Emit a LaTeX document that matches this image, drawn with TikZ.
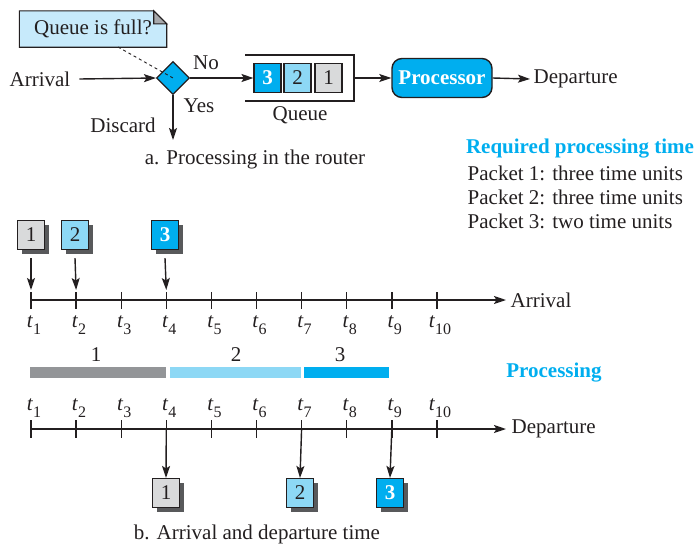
\documentclass[tikz,border=0pt]{standalone}
\usepackage{fontspec}
\setmainfont{Liberation Serif}
\usetikzlibrary{arrows.meta,shapes.geometric,shadows}
\definecolor{cy}{HTML}{00AEEF}
\definecolor{lb}{HTML}{8DD8F5}
\definecolor{lg}{HTML}{D9DADB}
\definecolor{bg}{HTML}{939598}
\definecolor{cf}{HTML}{C7EAFB}
\definecolor{fold}{HTML}{A7A9AC}
\definecolor{shd}{HTML}{58595B}
\definecolor{ink}{HTML}{231F20}
\newcommand{\tsub}[1]{\textit{t}\raisebox{-0.35em}{\fontsize{16}{16}\selectfont #1}}
\begin{document}
\begin{tikzpicture}[x=1pt,y=-1pt,font=\fontsize{21}{25}\selectfont,line width=1.4pt,draw=ink,text=ink,
  arr/.style={-{Stealth[length=12pt,width=8pt,inset=2.5pt]}},
  pkt/.style={draw=ink,minimum width=27pt,minimum height=29pt,inner sep=0pt,line width=1.1pt},
  shpkt/.style={pkt,drop shadow={shadow xshift=4pt,shadow yshift=-4pt,fill=shd,opacity=1}},
  p1/.style={fill=lg},
  p2/.style={fill=lb},
  p3/.style={fill=cy,text=white,font=\fontsize{21}{25}\selectfont\bfseries},
  ticklbl/.style={inner sep=0pt}]
\useasboundingbox (0,0) rectangle (696,544);

% ---------- part a ----------
\node[minimum width=146pt,minimum height=35pt,inner sep=0pt] (qf) at (93,29) {Queue is full?};
\draw[fill=cf,line width=1.1pt] (qf.north west) -- ([xshift=-13pt]qf.north east) -- ([yshift=-13pt]qf.north east) -- (qf.south east) -- (qf.south west) -- cycle;
\draw[fill=fold,line width=1.1pt] ([xshift=-13pt]qf.north east) -- ([xshift=-13pt,yshift=-13pt]qf.north east) -- ([yshift=-13pt]qf.north east) -- cycle;
\node[minimum width=146pt,minimum height=35pt,inner sep=0pt] at (qf) {Queue is full?};

\node[diamond,fill=cy,draw=ink,line width=1.1pt,minimum width=33pt,minimum height=33pt,inner sep=0pt] (dm) at (173,78) {};
\coordinate (qfs) at (118,47);
\draw[dashed,line width=0.9pt] (qfs) -- (dm.center);

\node (arrt) at (40,79) {Arrival};
\draw[arr] ([xshift=5pt]arrt.east) -- (dm.west);
\node (no) at (206,63) {No};
\node (yes) at (199,106) {Yes};
\node (disc) at (123,125) {Discard};
\coordinate (dis) at (173,140);
\draw[arr] (dm.south) -- (dis);

\node[pkt,p3] (q3) at (267.5,78) {3};
\node[pkt,p2] (q2) at (297.5,78) {2};
\node[pkt,p1] (q1) at (328.5,78) {1};
\draw[arr] (dm.east) -- (q3.west);
\draw[line width=1.1pt] (245,55) -| (354,101) -- (245,101);
\coordinate (qr) at (354,78);
\node (qlbl) at (300,115) {Queue};

\node[draw=ink,fill=cy,rounded corners=10pt,minimum width=100pt,minimum height=39pt,inner sep=0pt,text=white,font=\fontsize{21}{25}\selectfont\bfseries] (proc) at (442,78) {Processor};
\draw[arr] (qr) -- (proc.west);
\node[anchor=west,inner sep=0pt] (dept) at (533,79) {Departure};
\draw[arr] (proc.east) -- ([xshift=-3pt]dept.west);

\node (capa) at (255,159) {a. Processing in the router};

\node[text=cy,font=\fontsize{21}{25}\selectfont\bfseries] (req) at (580,149) {Required processing time};
\node[anchor=west,inner sep=0pt] (r1) at (467,173) {Packet 1: three time units};
\node[anchor=west,inner sep=0pt] (r2) at (467,197) {Packet 2: three time units};
\node[anchor=west,inner sep=0pt] (r3) at (467,221) {Packet 3: two time units};

% ---------- part b: arrival ----------
\draw[arr,line width=1.6pt] (31,300) -- (506,300);
\foreach \i in {1,...,10}{
  \pgfmathsetmacro{\xx}{31+45.1*(\i-1)}
  \coordinate (a\i) at (\xx,300);
  \draw[line width=1.4pt] (\xx,292) -- (\xx,309);
  \node[ticklbl] (la\i) at (\xx+3,325) {\tsub{\i}};
  \coordinate (d\i) at (\xx,429);
  \draw[line width=1.4pt] (\xx,420) -- (\xx,438);
  \node[ticklbl] (ld\i) at (\xx+3,408) {\tsub{\i}};
}
\node[anchor=west,inner sep=0pt] (arrl) at (510,300) {Arrival};

\node[shpkt,p1] (pa1) at (31,235) {1};
\node[shpkt,p2] (pa2) at (75,235) {2};
\node[shpkt,p3] (pa3) at (165,235) {3};
\draw[arr] ([yshift=-8pt]pa1.south) -- ([yshift=10pt]a1);
\draw[arr] ([yshift=-8pt]pa2.south) -- ([yshift=10pt]a2);
\draw[arr] ([yshift=-8pt]pa3.south) -- ([yshift=10pt]a4);

% ---------- processing bars ----------
\fill[bg] (30,367) rectangle (166,378);
\fill[lb] (170,367) rectangle (301,378);
\fill[cy] (304,367) rectangle (389,378);
\node (b1) at (96,355) {1};
\node (b2) at (236,355) {2};
\node (b3) at (340,355) {3};
\node[text=cy,font=\fontsize{21}{25}\selectfont\bfseries] (procl) at (554,373) {Processing};

% ---------- departure ----------
\draw[arr,line width=1.6pt] (31,429) -- (506,429);
\node[anchor=west,inner sep=0pt] (depl) at (511,429) {Departure};
\node[shpkt,p1] (pd1) at (166,493) {1};
\node[shpkt,p2] (pd2) at (300,493) {2};
\node[shpkt,p3] (pd3) at (390,493) {3};
\draw[arr] (d4) -- (pd1.north);
\draw[arr] (d7) -- (pd2.north);
\draw[arr] (d9) -- (pd3.north);

\node (capb) at (257,534) {b. Arrival and departure time};
\end{tikzpicture}
\end{document}
